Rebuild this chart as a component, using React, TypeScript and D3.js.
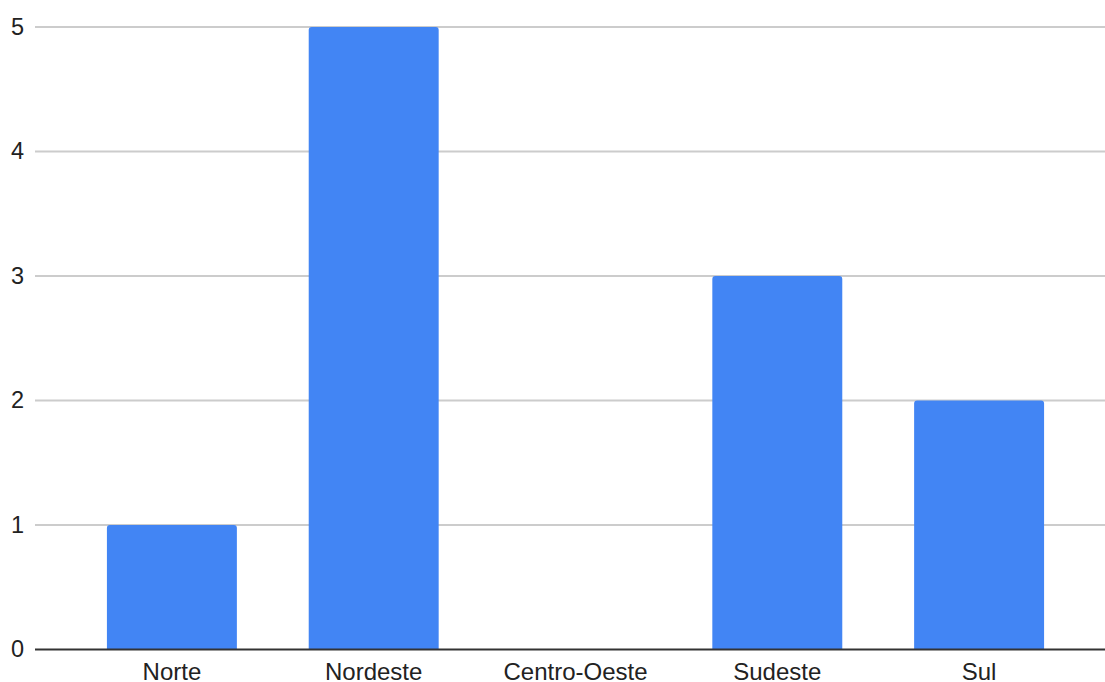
import React from "react";
import * as d3 from "d3";

const categories = ["Norte", "Nordeste", "Centro-Oeste", "Sudeste", "Sul"];
const values = [1, 5, 0, 3, 2];
const yTicks = [0, 1, 2, 3, 4, 5];

const W = 1105;
const H = 682;

export default function App() {
  const x = d3
    .scaleBand<string>()
    .domain(categories)
    .range([71, 1080])
    .paddingInner(0.356)
    .paddingOuter(0.178);
  const y = d3.scaleLinear().domain([0, 5]).range([649.5, 27]);
  const r = 3;
  const barPath = (x0: number, y0: number, w: number, y1: number) => {
    const h = y1 - y0;
    if (h <= 0) return "";
    const rr = Math.min(r, h, w / 2);
    return `M${x0},${y1}V${y0 + rr}Q${x0},${y0} ${x0 + rr},${y0}H${x0 + w - rr}Q${x0 + w},${y0} ${x0 + w},${y0 + rr}V${y1}Z`;
  };
  return (
    <>
      <style>{"body{margin:0}"}</style>
      <svg width={W} height={H} style={{ display: "block", background: "#fff" }} fontFamily="'Liberation Sans', Arial, sans-serif">
        {yTicks.map((t) => (
          <g key={t}>
            {t !== 0 && (
              <line x1={35} x2={W} y1={y(t)} y2={y(t)} stroke="#cccccc" strokeWidth={2} />
            )}
            <text x={24} y={y(t) + 7.5} textAnchor="end" fontSize={23.5} fill="#222">
              {t}
            </text>
          </g>
        ))}
        {categories.map((c, i) => {
          const bx = x(c)!;
          const bw = x.bandwidth();
          return (
            <path key={c} d={barPath(bx, y(values[i]), bw, y(0))} fill="#4285F4" />
          );
        })}
        <line x1={35} x2={W} y1={y(0)} y2={y(0)} stroke="#333333" strokeWidth={2} />
        {categories.map((c) => (
          <text key={c} x={x(c)! + x.bandwidth() / 2} y={680} textAnchor="middle" fontSize={24} fill="#222">
            {c}
          </text>
        ))}
      </svg>
    </>
  );
}
